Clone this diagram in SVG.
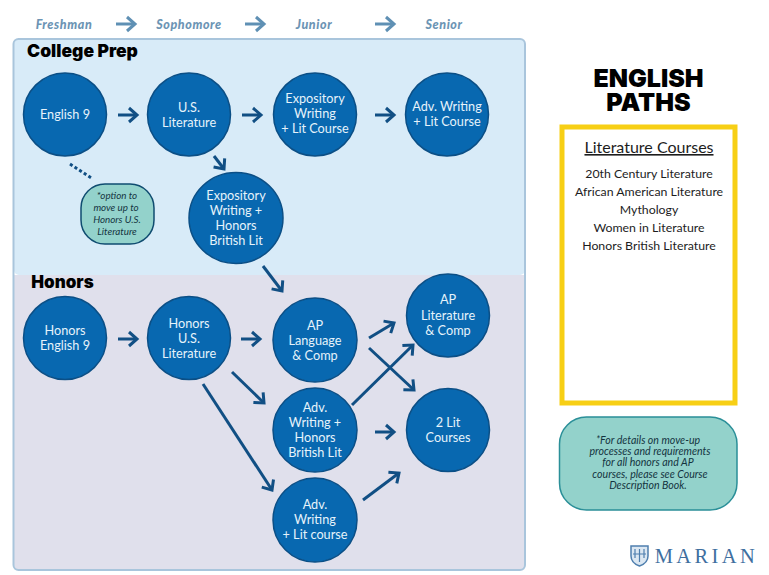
<svg xmlns="http://www.w3.org/2000/svg" width="769" height="575" viewBox="0 0 769 575">
<style>
text{font-family:Lato,"Noto Sans",sans-serif;text-anchor:middle}
.n{fill:#0868b0;stroke:#0b4f86;stroke-width:1.5}
.t{fill:#e6f3fb;font-size:12.700px}
.y{fill:#6c94b4;font-size:12.500px;font-weight:900;font-style:italic;letter-spacing:.6px}
.h{font-family:Inter,"Open Sans",sans-serif;font-weight:900;fill:#000}
.a{fill:none;stroke:#114f84;stroke-width:3;marker-end:url(#ah)}
.ya{fill:none;stroke:#5f90b4;stroke-width:3;marker-end:url(#yh)}
.c{fill:#1d1d1d;font-size:12.300px}
.i{fill:#14343f;font-style:italic;font-size:10.600px}
.o{fill:#14343f;font-style:italic;font-size:9.800px}
</style>
<defs>
<marker id="ah" markerUnits="userSpaceOnUse" markerWidth="16" markerHeight="18" refX="12" refY="9" orient="auto"><path d="M4 2L12 9L4 16" fill="none" stroke="#114f84" stroke-width="3"/></marker>
<marker id="yh" markerUnits="userSpaceOnUse" markerWidth="16" markerHeight="18" refX="12" refY="9" orient="auto"><path d="M4 2L12 9L4 16" fill="none" stroke="#5f90b4" stroke-width="3"/></marker>
</defs>
<rect width="769" height="575" fill="#fff"/>
<g id="panels">
<rect x="14" y="39" width="511" height="236" rx="5" fill="#d8ebf8"/>
<path d="M14 275H525V565a5 5 0 0 1-5 5H19a5 5 0 0 1-5-5Z" fill="#e0e0ec"/>
<rect x="13.500" y="39" width="511.500" height="531" rx="5" fill="none" stroke="#a9c5dc" stroke-width="2"/>
<text class="h" x="82.500" y="57" font-size="17.500">College Prep</text>
<text class="h" x="62.500" y="288" font-size="17">Honors</text>
</g>
<g id="years">
<text class="y" x="64" y="28.500">Freshman</text>
<text class="y" x="189" y="28.500">Sophomore</text>
<text class="y" x="314" y="28.500">Junior</text>
<text class="y" x="444" y="28.500">Senior</text>
</g>
<g id="connectors">
<path class="ya" d="M116 24H135"/>
<path class="ya" d="M245 24H264"/>
<path class="ya" d="M375 24H394"/>
<path class="a" d="M118 115H137"/>
<path class="a" d="M242 115H261"/>
<path class="a" d="M375 115H394"/>
<path class="a" d="M214 156L224 169"/>
<path d="M70 164L93 179" fill="none" stroke="#114f84" stroke-width="3" stroke-dasharray="3 2.500"/>
<path class="a" d="M263 266L282 291"/>
<path class="a" d="M118 339H137"/>
<path class="a" d="M241 339H260"/>
<path class="a" d="M369 338L394 323"/>
<path class="a" d="M369 348L414 390"/>
<path class="a" d="M232 372L264 403"/>
<path class="a" d="M352 405L413 345"/>
<path class="a" d="M375 432H394"/>
<path class="a" d="M203 384L272 490"/>
<path class="a" d="M363 500L399 473"/>
</g>
<g id="english9"><circle class="n" cx="65" cy="114.500" r="41.500"/><text class="t" x="65" y="119">English 9</text></g>
<g id="uslit"><circle class="n" cx="189" cy="114.500" r="41.500"/><text class="t" x="189" y="112">U.S.</text><text class="t" x="189" y="127">Literature</text></g>
<g id="expo"><circle class="n" cx="315" cy="114.500" r="41.500"/><text class="t" x="315" y="103">Expository</text><text class="t" x="315" y="118">Writing</text><text class="t" x="315" y="133">+ Lit Course</text></g>
<g id="advwriting"><circle class="n" cx="447" cy="114.500" r="41.500"/><text class="t" x="447" y="111">Adv. Writing</text><text class="t" x="447" y="126">+ Lit Course</text></g>
<g id="expohonors"><ellipse class="n" cx="236" cy="218" rx="47" ry="45.500"/><text class="t" x="236" y="200">Expository</text><text class="t" x="236" y="215">Writing +</text><text class="t" x="236" y="230">Honors</text><text class="t" x="236" y="245">British Lit</text></g>
<g id="option"><rect x="81" y="184" width="73" height="60" rx="24" fill="#93d2cb" stroke="#0f4c70" stroke-width="1.500"/><text class="o" x="117" y="199">*option to</text><text class="o" x="116" y="211">move up to</text><text class="o" x="117" y="223">Honors U.S.</text><text class="o" x="117" y="235">Literature</text></g>
<g id="honors9"><circle class="n" cx="65" cy="338" r="41.500"/><text class="t" x="65" y="335">Honors</text><text class="t" x="65" y="350">English 9</text></g>
<g id="honorsus"><circle class="n" cx="189" cy="338" r="41.500"/><text class="t" x="189" y="328">Honors</text><text class="t" x="189" y="343">U.S.</text><text class="t" x="189" y="358">Literature</text></g>
<g id="aplang"><circle class="n" cx="315" cy="340" r="42"/><text class="t" x="315" y="330">AP</text><text class="t" x="315" y="345">Language</text><text class="t" x="315" y="360">&amp; Comp</text></g>
<g id="advhonors"><circle class="n" cx="315" cy="430" r="42"/><text class="t" x="315" y="412">Adv.</text><text class="t" x="315" y="427">Writing +</text><text class="t" x="315" y="442">Honors</text><text class="t" x="315" y="457">British Lit</text></g>
<g id="advlit"><circle class="n" cx="315" cy="520" r="42"/><text class="t" x="315" y="509">Adv.</text><text class="t" x="315" y="524">Writing</text><text class="t" x="315" y="539">+ Lit course</text></g>
<g id="aplit"><circle class="n" cx="448" cy="315.500" r="41.500"/><text class="t" x="448" y="304">AP</text><text class="t" x="448" y="320">Literature</text><text class="t" x="448" y="335">&amp; Comp</text></g>
<g id="twolit"><circle class="n" cx="448" cy="430" r="41.500"/><text class="t" x="448" y="427">2 Lit</text><text class="t" x="448" y="442">Courses</text></g>
<g id="title"><text class="h" font-size="25"><tspan x="648.500" y="87">ENGLISH</tspan><tspan x="648.500" y="111">PATHS</tspan></text></g>
<g id="courses">
<rect x="562" y="127" width="173" height="276" fill="#fff" stroke="#f7cf15" stroke-width="5"/>
<text x="649" y="153" font-size="16" fill="#1d1d1d" text-decoration="underline">Literature Courses</text>
<text class="c" x="649" y="177.500">20th Century Literature</text>
<text class="c" x="649" y="195.500">African American Literature</text>
<text class="c" x="649" y="213.500">Mythology</text>
<text class="c" x="649" y="231.500">Women in Literature</text>
<text class="c" x="649" y="249.500">Honors British Literature</text>
</g>
<g id="note">
<rect x="559.500" y="417" width="177.500" height="93" rx="27" fill="#93d2cb" stroke="#2a8f98" stroke-width="1.500"/>
<text class="i" x="648" y="443.500">*For details on move-up</text>
<text class="i" x="650" y="455">processes and requirements</text>
<text class="i" x="648" y="466">for all honors and AP</text>
<text class="i" x="650" y="477.500">courses, please see Course</text>
<text class="i" x="648" y="489">Description Book.</text>
</g>
<g id="logo">
<path d="M631 546H648V556Q648 563 639.500 566Q631 563 631 556Z" fill="#dbe7f2" stroke="#4f7fae" stroke-width="1.500"/>
<path d="M635 549V558M639.500 549V562M644 549V558M633 554H646" fill="none" stroke="#4f7fae" stroke-width="1.200"/>
<text x="706.500" y="563" font-size="20.500" letter-spacing="3.400" fill="#3f6f9f" style="font-family:'Liberation Serif',serif">MARIAN</text>
</g>
</svg>
